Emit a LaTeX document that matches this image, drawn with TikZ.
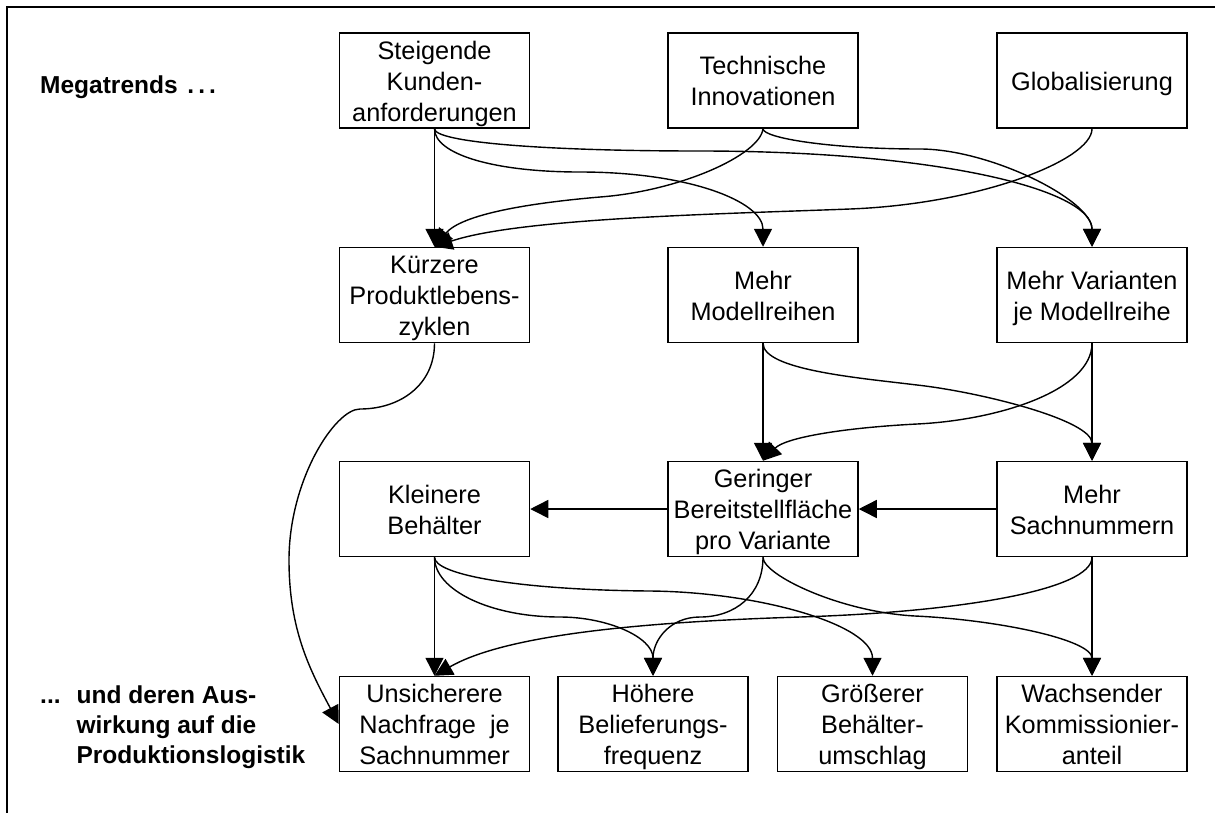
\documentclass[tikz,border=0pt]{standalone}
\usepackage{fontspec}
\setmainfont{Liberation Sans}
\usetikzlibrary{arrows.meta}
\newcommand\boxfont{\fontsize{25.3}{31}\selectfont}
\newcommand\labelfont{\fontsize{24.5}{30}\selectfont\bfseries}

\begin{document}
\begin{tikzpicture}[x=1pt,y=-1pt,
  tb/.style={draw, line width=1.5pt, inner sep=0pt, minimum width=190pt,
             align=center, font=\boxfont},
  one/.style={tb, text height=57pt, text depth=38pt},
  two/.style={tb, text height=72.5pt, text depth=22.5pt},
  three/.style={tb, text height=88pt, text depth=7pt},
  link/.style={line width=1.4pt, -{Triangle[length=18pt,width=18pt]}},
  lbl/.style={inner sep=0pt, font=\labelfont}]

\useasboundingbox (0,0) rectangle (1215,812);
\fill[white] (0,0) rectangle (1215,812);

% outer frame
\begin{scope}
  \clip (0,0) rectangle (1215,812);
  \draw[line width=2pt] (7,7) rectangle (1230,830);
\end{scope}

% side labels
\node[lbl, anchor=base west] (mega) at (40,93) {Megatrends\ \kern3pt.\kern4pt.\kern4pt.};
\node[lbl, anchor=base west] (impact) at (40,703)
  {\begin{tabular}[t]{@{}l@{\kern16pt}l@{}}
   ... & und deren Aus-\\
       & wirkung auf die\\
       & Produktionslogistik
   \end{tabular}};

% megatrends
\node[three] (A) at (434.5,80.5) {Steigende\\Kunden-\\anforderungen};
\node[two]   (B) at (763,80.5)   {Technische\\Innovationen};
\node[one]   (C) at (1092,80.5)  {Globalisierung};

% product level
\node[three] (D) at (434.5,295) {K\"urzere\\Produktlebens-\\zyklen};
\node[two]   (E) at (763,295)   {Mehr\\Modellreihen};
\node[two]   (F) at (1092,295)  {Mehr Varianten\\je Modellreihe};

% part level
\node[two]   (G) at (434.5,509) {Kleinere\\Beh\"alter};
\node[three] (H) at (763,509)   {Geringer\\Bereitstellfl\"ache\\pro Variante};
\node[two]   (I) at (1092,509)  {Mehr\\Sachnummern};

% effects on production logistics
\node[three] (J) at (434.5,724) {Unsicherere\\Nachfrage~~je\\Sachnummer};
\node[three] (K) at (653,724)   {H\"ohere\\Belieferungs-\\frequenz};
\node[three] (L) at (872.5,724) {Gr\"o\ss erer\\Beh\"alter-\\umschlag};
\node[three] (M) at (1092,724)  {Wachsender\\Kommissionier-\\anteil};

% megatrends -> product level
\draw[link] (A) -- (D);
\draw[link] (A.south) .. controls (434.5,154) and (493,172) .. (580,172)
            .. controls (690,172) and (763,202) .. (E.north);
\draw[link] (A.south) .. controls (434.5,142) and (540,151) .. (700,151)
            .. controls (935,151) and (1092,189) .. (F.north);
\draw[link] (B.south) .. controls (760,155) and (680,191) .. (600,197)
            .. controls (530,203) and (462,214) .. (D.north);
\draw[link] (B.south) .. controls (763,138) and (830,149) .. (920,149)
            .. controls (990,149) and (1092,200) .. (F.north);
\draw[link] (C.south) .. controls (1092,160) and (980,204) .. (850,209)
            .. controls (720,214) and (520,218) .. (D.north);

% product level -> part level
\draw[link] (D.south) .. controls (434.5,385) and (400,409) .. (360,409)
            .. controls (335,409) and (289,480) .. (289,560)
            .. controls (289,630) and (310,670) .. (J.west);
\draw[link] (E) -- (H);
\draw[link] (E.south) .. controls (763,370) and (860,378) .. (917,385)
            .. controls (980,392) and (1092,420) .. (I.north);
\draw[link] (F.south) .. controls (1092,390) and (1000,420) .. (917,424)
            .. controls (840,428) and (785,438) .. (H.north);
\draw[link] (F) -- (I);
\draw[link] (I) -- (H);
\draw[link] (H) -- (G);

% part level -> effects
\draw[link] (G) -- (J);
\draw[link] (G.south) .. controls (434.5,590) and (490,617) .. (560,617)
            .. controls (607,617) and (653,637) .. (K.north);
\draw[link] (G.south) .. controls (434.5,575) and (520,590) .. (650,591)
            .. controls (760,592) and (872.5,625) .. (L.north);
\draw[link] (H.south) .. controls (763,595) and (735,617) .. (700,617)
            .. controls (670,617) and (653,640) .. (K.north);
\draw[link] (H.south) .. controls (763,575) and (840,612) .. (915,616)
            .. controls (1000,620) and (1092,640) .. (M.north);
\draw[link] (I.south) .. controls (1092,590) and (960,612) .. (800,617)
            .. controls (640,622) and (505,635) .. (J.north);
\draw[link] (I) -- (M);

\end{tikzpicture}
\end{document}
